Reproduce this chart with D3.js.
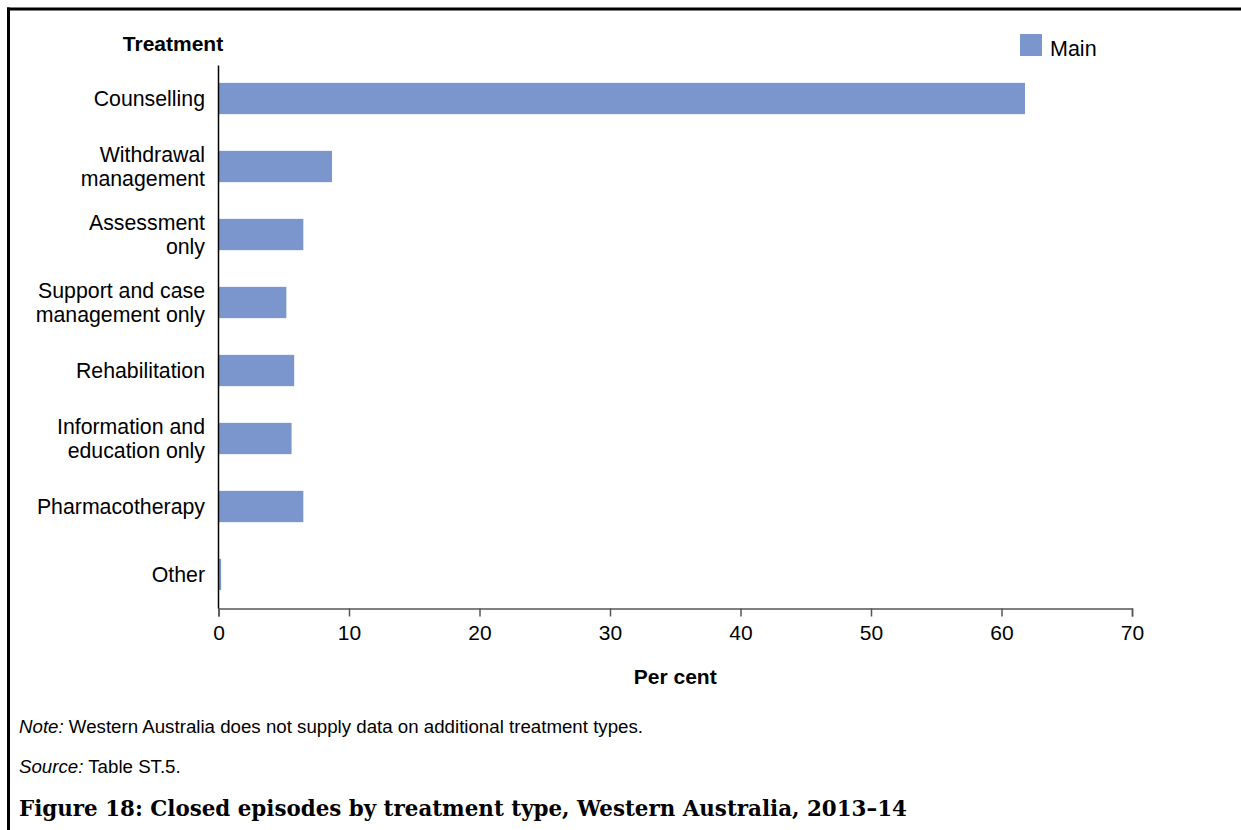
<!DOCTYPE html>
<html>
<head>
<meta charset="utf-8">
<script src="https://cdn.jsdelivr.net/npm/d3@7"></script>
<style>
  html, body { margin: 0; padding: 0; background: #fff; }
  svg { display: block; }
  text { font-family: "Liberation Sans", Arial, sans-serif; fill: #000; }
</style>
</head>
<body>
<svg id="chart" width="1241" height="830"></svg>
<script>
// Treatment types (each entry holds the wrapped label lines)
const categories = [
  ["Counselling"],
  ["Withdrawal", "management"],
  ["Assessment", "only"],
  ["Support and case", "management only"],
  ["Rehabilitation"],
  ["Information and", "education only"],
  ["Pharmacotherapy"],
  ["Other"]
];
// Per cent of closed episodes, main treatment
const mainValues = [61.8, 8.7, 6.5, 5.2, 5.8, 5.6, 6.5, 0.2];
const xTicks = [0, 10, 20, 30, 40, 50, 60, 70];
const seriesName = "Main";

const barColor = "#7b96cd";
const svg = d3.select("#chart");

// Frame: heavy rule along the top and left edges
svg.append("line").attr("x1", 7).attr("x2", 1241).attr("y1", 9).attr("y2", 9)
  .attr("stroke", "#000").attr("stroke-width", 3);
svg.append("line").attr("x1", 8.5).attr("x2", 8.5).attr("y1", 7.5).attr("y2", 830)
  .attr("stroke", "#000").attr("stroke-width", 3);

const plotLeft = 218.5, plotRight = 1132, plotTop = 64.5, plotBottom = 608.5;

const x = d3.scaleLinear().domain([0, 70]).range([plotLeft, plotRight]);
const y = d3.scaleBand().domain(d3.range(categories.length)).range([plotTop, plotBottom])
  .paddingInner(0.54).paddingOuter(0.27);

// Bars
svg.append("g").selectAll("rect").data(mainValues).join("rect")
  .attr("x", x(0))
  .attr("y", (d, i) => y(i))
  .attr("width", d => x(d) - x(0))
  .attr("height", y.bandwidth())
  .attr("fill", barColor);

// X axis
const xAxis = svg.append("g").attr("transform", `translate(0,${plotBottom})`)
  .call(d3.axisBottom(x).tickValues(xTicks).tickSize(8).tickSizeOuter(8).tickPadding(9));
xAxis.select(".domain").attr("stroke", "#555").attr("stroke-width", 1.5);
xAxis.selectAll(".tick line").attr("stroke", "#555").attr("stroke-width", 1.5);
xAxis.selectAll(".tick text").style("font-family", "Liberation Sans, Arial, sans-serif")
  .style("font-size", "21px").attr("fill", "#000");

// Y axis line
svg.append("line").attr("x1", plotLeft).attr("x2", plotLeft).attr("y1", plotTop + 1).attr("y2", plotBottom)
  .attr("stroke", "#000").attr("stroke-width", 1.5);

// Category labels
const lineH = 24;
const lab = svg.append("g").selectAll("text").data(categories).join("text")
  .attr("text-anchor", "end")
  .style("font-size", "21.3px")
  .attr("y", (d, i) => y(i) + y.bandwidth() / 2 - (d.length - 1) * lineH / 2 + 7.5);
lab.selectAll("tspan").data(d => d).join("tspan")
  .attr("x", 205)
  .attr("dy", (d, j) => j === 0 ? 0 : lineH)
  .text(d => d);

// Axis titles
svg.append("text").attr("x", 173).attr("y", 51).attr("text-anchor", "middle")
  .style("font-size", "21px").style("font-weight", "bold").text("Treatment");
svg.append("text").attr("x", (plotLeft + plotRight) / 2).attr("y", 684).attr("text-anchor", "middle")
  .style("font-size", "21px").style("font-weight", "bold").text("Per cent");

// Legend
svg.append("rect").attr("x", 1020).attr("y", 34).attr("width", 22).attr("height", 22).attr("fill", barColor);
svg.append("text").attr("x", 1050).attr("y", 56).style("font-size", "21.5px").text(seriesName);

// Notes and caption
const note = svg.append("text").attr("x", 19).attr("y", 733).style("font-size", "18.7px");
note.append("tspan").style("font-style", "italic").text("Note:");
note.append("tspan").text(" Western Australia does not supply data on additional treatment types.");
const src = svg.append("text").attr("x", 19).attr("y", 773).style("font-size", "18.7px");
src.append("tspan").style("font-style", "italic").text("Source:");
src.append("tspan").text(" Table ST.5.");
svg.append("text").attr("x", 19).attr("y", 816)
  .style("font-family", "'DejaVu Serif', 'Liberation Serif', serif")
  .style("font-size", "21.4px").style("font-weight", "bold")
  .text("Figure 18: Closed episodes by treatment type, Western Australia, 2013–14");
</script>
</body>
</html>
